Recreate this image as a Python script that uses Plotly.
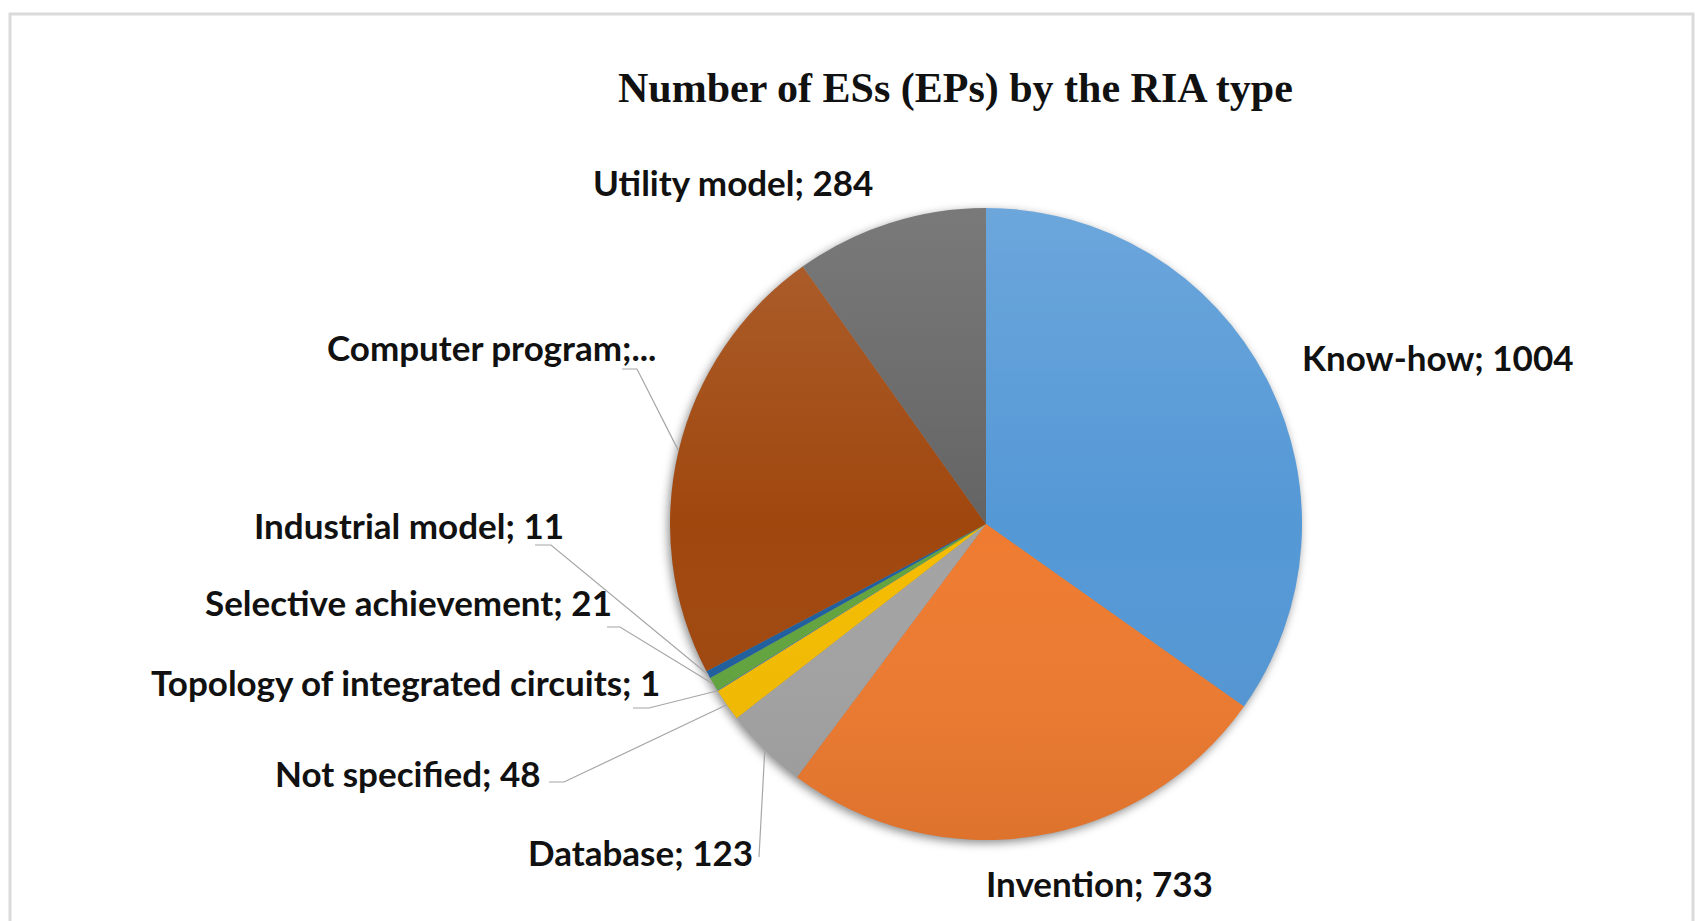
import math
import base64
import plotly.graph_objects as go

# ---------------- data ----------------
categories = ["Know-how", "Invention", "Database", "Not specified",
              "Topology of integrated circuits", "Selective achievement",
              "Industrial model", "Computer program", "Utility model"]
values = [1004, 733, 123, 48, 1, 21, 11, 660, 284]
label_texts = ["Know-how; 1004", "Invention; 733", "Database; 123",
               "Not specified; 48", "Topology of integrated circuits; 1",
               "Selective achievement; 21", "Industrial model; 11",
               "Computer program;...", "Utility model; 284"]
title_text = "Number of ESs (EPs) by the RIA type"

# ---------------- styles / layout ----------------
colors = ["#5498D6", "#EE7B30", "#A3A3A3", "#F4BC00", "#4472C4",
          "#62A43E", "#1F5E9E", "#A0470E", "#646464"]

W, H = 1703, 921
CX, CY, R = 986, 524, 316  # pie centre / radius in px

# label anchor (x, y, xanchor) and leader pre-points (px) for each slice
label_pos = [
    (1300, 357, "left", None),
    (984, 883, "left", None),
    (755, 852, "right", [(759, 857)]),
    (543, 773, "right", [(549, 782), (564, 782)]),
    (662, 682, "right", [(633, 708), (649, 708)]),
    (614, 602, "right", [(607, 627), (620, 627)]),
    (566, 525, "right", [(535, 545), (551, 545)]),
    (658, 347, "right", [(622, 369), (637, 369)]),
    (733, 182, "center", None),
]


def px(x):
    return x / W


def py(y):
    return 1 - y / H


def svg_uri(svg):
    return "data:image/svg+xml;base64," + base64.b64encode(svg.encode()).decode()


fig = go.Figure()
fig.add_trace(go.Pie(
    labels=categories, values=values, sort=False, direction="clockwise",
    rotation=0, marker=dict(colors=colors, line=dict(width=0)),
    textinfo="none", hoverinfo="label+value", showlegend=False,
    domain=dict(x=[px(CX - R), px(CX + R)], y=[py(CY + R), py(CY - R)]),
))

total = sum(values)
cum = 0.0
shapes = []
annotations = []
for i, v in enumerate(values):
    mid = (cum + v / 2) / total * 2 * math.pi
    cum += v
    ex = CX + R * math.sin(mid)
    ey = CY - R * math.cos(mid)
    lx, ly, anc, pre = label_pos[i]
    annotations.append(dict(
        x=px(lx), y=py(ly), xref="paper", yref="paper",
        xanchor=anc, yanchor="middle", showarrow=False,
        text="<b>" + label_texts[i] + "</b>",
        font=dict(family="Lato", size=35, color="#111111"),
    ))
    if pre:
        pts = pre + [(ex, ey)]
        path = "M " + " L ".join(f"{px(a):.5f},{py(b):.5f}" for a, b in pts)
        shapes.append(dict(type="path", path=path, xref="paper", yref="paper",
                           line=dict(color="#A6A6A6", width=1.2)))

annotations.append(dict(
    x=px(955), y=py(88), xref="paper", yref="paper", xanchor="center",
    yanchor="middle", showarrow=False, text="<b>" + title_text + "</b>",
    font=dict(family="Liberation Serif", size=42, color="#111111"),
))

# outer chart frame
shapes.append(dict(type="rect", xref="paper", yref="paper",
                   x0=px(10), x1=px(1693), y0=py(930), y1=py(14),
                   line=dict(color="#DADADA", width=3)))

# soft shadow under the pie and a gentle vertical shading on top of it
PAD = 24
S = 2 * R + 2 * PAD
shadow_svg = (
    f'<svg xmlns="http://www.w3.org/2000/svg" width="{S}" height="{S}" viewBox="0 0 {S} {S}">'
    '<defs><filter id="b" x="-20%" y="-20%" width="140%" height="140%">'
    '<feGaussianBlur stdDeviation="5"/></filter></defs>'
    f'<circle cx="{PAD + R - 2}" cy="{PAD + R + 3}" r="{R}" fill="#000" fill-opacity="0.45" filter="url(#b)"/>'
    '</svg>'
)
shade_svg = (
    f'<svg xmlns="http://www.w3.org/2000/svg" width="{S}" height="{S}" viewBox="0 0 {S} {S}">'
    '<defs><linearGradient id="g" x1="0" y1="0" x2="0" y2="1">'
    '<stop offset="0" stop-color="#fff" stop-opacity="0.14"/>'
    '<stop offset="0.5" stop-color="#fff" stop-opacity="0"/>'
    '<stop offset="1" stop-color="#000" stop-opacity="0.07"/>'
    '</linearGradient></defs>'
    f'<circle cx="{PAD + R}" cy="{PAD + R}" r="{R}" fill="url(#g)"/>'
    '</svg>'
)
images = [
    dict(source=svg_uri(shadow_svg), xref="paper", yref="paper",
         x=px(CX - R - PAD), y=py(CY - R - PAD), sizex=S / W, sizey=S / H,
         xanchor="left", yanchor="top", sizing="stretch", layer="below"),
    dict(source=svg_uri(shade_svg), xref="paper", yref="paper",
         x=px(CX - R - PAD), y=py(CY - R - PAD), sizex=S / W, sizey=S / H,
         xanchor="left", yanchor="top", sizing="stretch", layer="above"),
]

fig.update_layout(
    width=W, height=H, autosize=False,
    margin=dict(l=0, r=0, t=0, b=0),
    paper_bgcolor="white", plot_bgcolor="rgba(0,0,0,0)",
    shapes=shapes, annotations=annotations, images=images,
)

fig.write_html("out.html", config={"displayModeBar": False},
               post_script="document.body.style.margin='0';document.body.style.overflow='hidden';")
